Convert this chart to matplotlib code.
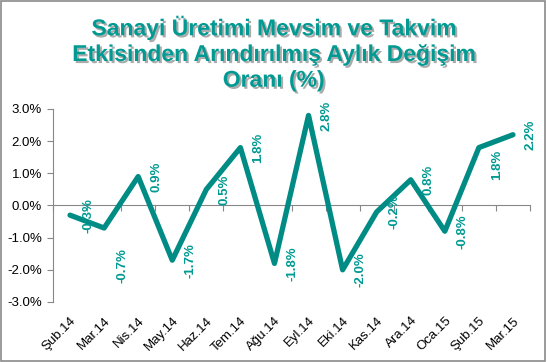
import matplotlib
matplotlib.use("Agg")
import matplotlib.pyplot as plt
import matplotlib.patheffects as pe
from matplotlib.patches import Rectangle
from matplotlib.ticker import FixedLocator, FuncFormatter

plt.rcParams['font.family'] = ['Liberation Sans', 'DejaVu Sans']

categories = ["Şub.14", "Mar.14", "Nis.14", "May.14", "Haz.14", "Tem.14", "Ağu.14",
              "Eyl.14", "Eki.14", "Kas.14", "Ara.14", "Oca.15", "Şub.15", "Mar.15"]
values = [-0.3, -0.7, 0.9, -1.7, 0.5, 1.8, -1.8, 2.8, -2.0, -0.2, 0.8, -0.8, 1.8, 2.2]
yticks = [-3.0, -2.0, -1.0, 0.0, 1.0, 2.0, 3.0]
title = "Sanayi Üretimi Mevsim ve Takvim\nEtkisinden Arındırılmış Aylık Değişim\nOranı (%)"

line_color = '#008C85'
text_teal = '#009A93'

fig = plt.figure(figsize=(5.47, 3.62), dpi=100)
ax = fig.add_axes([53/547, 1-302/362, (530-53)/547, (302-109)/362])

x = list(range(len(values)))
ax.plot(x, values, color=line_color, lw=3.8, solid_joinstyle='round',
        solid_capstyle='round', zorder=3)

# data labels (offset in pixels)
extra_dy = {1: -38, 12: -17}
for i, v in enumerate(values):
    ax.annotate(f"{v:.1f}%", (i, v), xytext=(18, extra_dy.get(i, 0)),
                textcoords='offset pixels', rotation=90, ha='center', va='center',
                color=text_teal, fontsize=9.5, fontweight='bold', zorder=4)

ax.set_xlim(-0.5, len(values) - 0.5)
ax.set_ylim(-3.0, 3.0)
ax.set_yticks(yticks)
ax.yaxis.set_major_formatter(FuncFormatter(lambda v, p: f"{v:.1f}%"))
ax.tick_params(axis='y', length=4, width=0.8, color='#888888', labelsize=9.5,
               labelcolor='#000000', pad=4)

for s in ['top', 'right']:
    ax.spines[s].set_visible(False)
ax.spines['left'].set_color('#888888')
ax.spines['bottom'].set_color('#888888')
ax.spines['bottom'].set_position(('data', 0))
ax.xaxis.set_major_locator(FixedLocator(x))
ax.xaxis.set_minor_locator(FixedLocator([i + 0.5 for i in range(-1, len(values))]))
ax.tick_params(axis='x', which='major', length=0, labelbottom=False)
ax.tick_params(axis='x', which='minor', length=4, width=0.8, color='#888888')

sec = ax.secondary_xaxis(location=0)
sec.set_xticks(x)
sec.set_xticklabels(categories, rotation=45, ha='right', va='top',
                    rotation_mode='anchor', fontsize=9.5)
sec.tick_params(length=0, pad=9)
sec.spines['bottom'].set_visible(False)

fig.text(0.5, 1 - 53/362, title, ha='center', va='center', fontsize=16.5,
         fontweight='bold', color=text_teal, linespacing=1.15,
         path_effects=[pe.SimplePatchShadow(offset=(1.5, -1.5), shadow_rgbFace='#888888', alpha=0.7), pe.Normal()])

fig.patches.append(Rectangle((0.002, 0.004), 0.994, 0.992, transform=fig.transFigure,
                             fill=False, edgecolor='#8a8a8a', lw=1.2))

fig.savefig("out.png", dpi=100)
